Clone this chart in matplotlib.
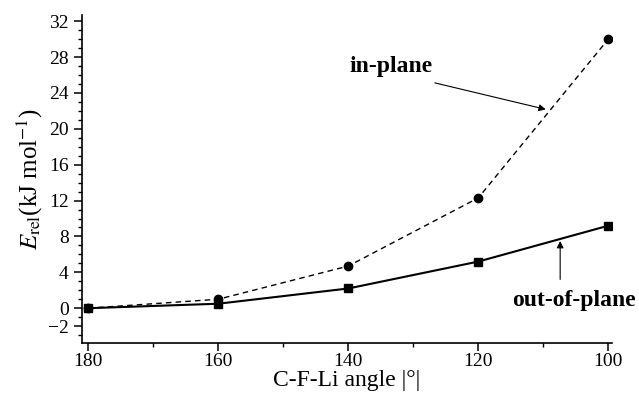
import matplotlib
matplotlib.use("Agg")
import matplotlib.pyplot as plt
from matplotlib.ticker import MultipleLocator, FixedLocator

angles = [180, 160, 140, 120, 100]
in_plane = [0.0, 1.0, 4.7, 12.3, 30.0]
out_of_plane = [0.0, 0.5, 2.2, 5.2, 9.2]
yticks = [-2, 0, 4, 8, 12, 16, 20, 24, 28, 32]
xticks = [180, 160, 140, 120, 100]

plt.rcParams['font.family'] = ['Liberation Serif', 'DejaVu Serif']
plt.rcParams['mathtext.fontset'] = 'stix'

fig = plt.figure(figsize=(6.39, 3.94), dpi=100)
ax = fig.add_axes([0.128, 0.129, 0.83, 0.833])

ax.plot(angles, in_plane, ls=(0, (4, 3)), color='black', lw=1.0,
        marker='o', ms=6, mfc='black', mec='black')
ax.plot(angles, out_of_plane, ls='-', color='black', lw=1.5,
        marker='s', ms=6, mfc='black', mec='black')

ax.set_xlim(181, 99.4)
ax.set_ylim(-3.9, 32.7)
ax.xaxis.set_major_locator(FixedLocator(xticks))
ax.xaxis.set_minor_locator(MultipleLocator(10))
ax.yaxis.set_major_locator(FixedLocator(yticks))
ax.yaxis.set_minor_locator(MultipleLocator(1))

for s in ['top', 'right']:
    ax.spines[s].set_visible(False)
for s in ['left', 'bottom']:
    ax.spines[s].set_linewidth(1.2)

ax.tick_params(which='major', direction='out', length=6, width=1.1, labelsize=14)
ax.tick_params(axis='x', which='major', pad=1)
ax.tick_params(which='minor', direction='out', length=3, width=1.0)

ax.set_xlabel('C-F-Li angle |°|', fontsize=17, labelpad=0)
ax.set_ylabel(r'$E_{\rm rel}$(kJ mol$^{-1}$)', fontsize=18, labelpad=2)

ax.annotate('', xy=(109.2, 22.1), xytext=(127.1, 25.2),
            arrowprops=dict(arrowstyle='-|>', color='black', lw=0.8,
                            mutation_scale=10))
ax.text(133.4, 26.9, 'in-plane', fontsize=17, fontweight='bold',
        ha='center', va='center')
ax.annotate('', xy=(107.4, 7.8), xytext=(107.4, 2.9),
            arrowprops=dict(arrowstyle='-|>', color='black', lw=0.8,
                            mutation_scale=10))
ax.text(105.3, 0.9, 'out-of-plane', fontsize=17, fontweight='bold',
        ha='center', va='center', clip_on=False)

fig.savefig('out.png', dpi=100)
